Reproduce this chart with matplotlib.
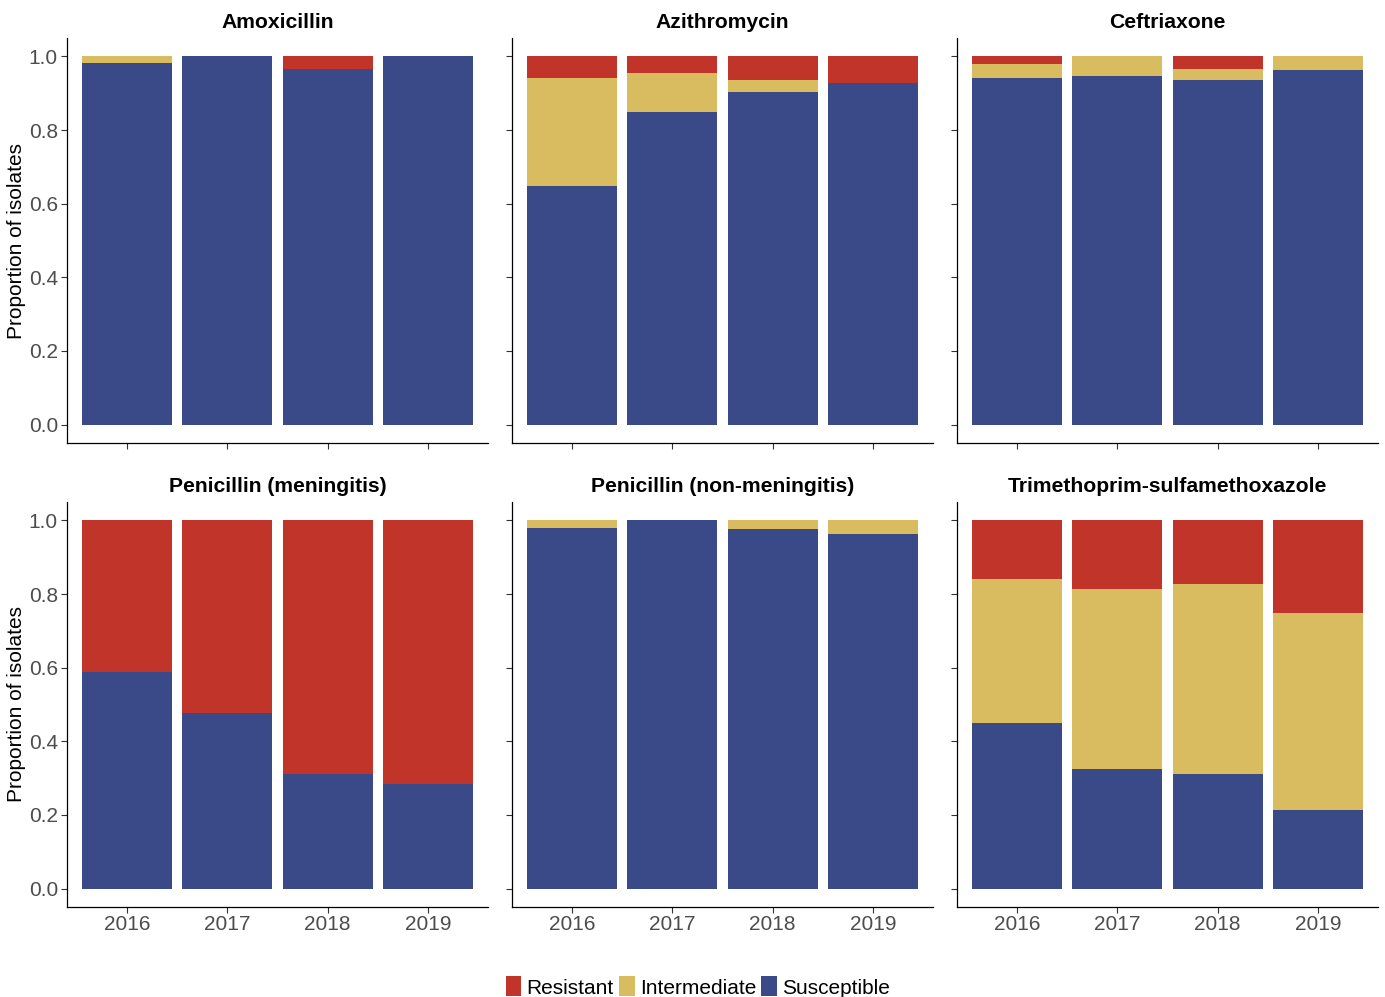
import matplotlib
matplotlib.use("Agg")
import matplotlib.pyplot as plt
from matplotlib.patches import Patch
import numpy as np

plt.rcParams['font.family'] = ['Liberation Sans', 'DejaVu Sans']

years = ["2016", "2017", "2018", "2019"]
drugs = ["Amoxicillin", "Azithromycin", "Ceftriaxone",
         "Penicillin (meningitis)", "Penicillin (non-meningitis)",
         "Trimethoprim-sulfamethoxazole"]

susceptible = {
    "Amoxicillin": [0.981, 1.0, 0.967, 1.0],
    "Azithromycin": [0.648, 0.848, 0.903, 0.928],
    "Ceftriaxone": [0.941, 0.946, 0.935, 0.964],
    "Penicillin (meningitis)": [0.588, 0.477, 0.312, 0.285],
    "Penicillin (non-meningitis)": [0.979, 1.0, 0.977, 0.963],
    "Trimethoprim-sulfamethoxazole": [0.450, 0.325, 0.312, 0.214],
}
intermediate = {
    "Amoxicillin": [0.019, 0.0, 0.0, 0.0],
    "Azithromycin": [0.293, 0.108, 0.032, 0.0],
    "Ceftriaxone": [0.039, 0.054, 0.032, 0.036],
    "Penicillin (meningitis)": [0.0, 0.0, 0.0, 0.0],
    "Penicillin (non-meningitis)": [0.021, 0.0, 0.023, 0.037],
    "Trimethoprim-sulfamethoxazole": [0.392, 0.490, 0.515, 0.535],
}
resistant = {
    "Amoxicillin": [0.0, 0.0, 0.033, 0.0],
    "Azithromycin": [0.059, 0.044, 0.065, 0.072],
    "Ceftriaxone": [0.020, 0.0, 0.033, 0.0],
    "Penicillin (meningitis)": [0.412, 0.523, 0.688, 0.715],
    "Penicillin (non-meningitis)": [0.0, 0.0, 0.0, 0.0],
    "Trimethoprim-sulfamethoxazole": [0.158, 0.185, 0.173, 0.251],
}

C_RES = "#C0342A"
C_INT = "#D9BC5F"
C_SUS = "#3A4A89"

W, H = 1385, 997
fig = plt.figure(figsize=(W / 100, H / 100), dpi=100)

lefts = [67, 512, 957]
tops = [38, 502]
aw, ah = 421, 405

x = np.arange(1, 5)
for i, drug in enumerate(drugs):
    r, c = divmod(i, 3)
    ax = fig.add_axes([lefts[c] / W, 1 - (tops[r] + ah) / H, aw / W, ah / H])
    s = np.array(susceptible[drug])
    m = np.array(intermediate[drug])
    rr = np.array(resistant[drug])
    ax.bar(x, s, width=0.9, color=C_SUS, linewidth=0)
    ax.bar(x, m, width=0.9, bottom=s, color=C_INT, linewidth=0)
    ax.bar(x, rr, width=0.9, bottom=s + m, color=C_RES, linewidth=0)
    ax.set_xlim(0.4, 4.6)
    ax.set_ylim(-0.05, 1.05)
    ax.set_xticks(x)
    ax.set_yticks([0, 0.2, 0.4, 0.6, 0.8, 1.0])
    for sp in ["top", "right"]:
        ax.spines[sp].set_visible(False)
    for sp in ["left", "bottom"]:
        ax.spines[sp].set_color("black")
        ax.spines[sp].set_linewidth(0.9)
    ax.tick_params(axis="both", colors="#333333", labelcolor="#4D4D4D",
                   labelsize=15, length=4, width=0.8)
    ax.tick_params(axis="x", pad=1.5)
    ax.tick_params(axis="y", pad=2.5)
    if r == 1:
        ax.set_xticklabels(years)
    else:
        ax.set_xticklabels([])
    if c == 0:
        ax.set_yticklabels(["0.0", "0.2", "0.4", "0.6", "0.8", "1.0"])
        ax.set_ylabel("Proportion of isolates", fontsize=15, color="black", labelpad=2)
    else:
        ax.set_yticklabels([])
    ax.set_title(drug, fontsize=15.2, fontweight="bold", pad=7)

handles = [Patch(facecolor=C_RES, label="Resistant"),
           Patch(facecolor=C_INT, label="Intermediate"),
           Patch(facecolor=C_SUS, label="Susceptible")]
fig.legend(handles=handles, loc="center", bbox_to_anchor=(698 / W, 1 - 987 / H),
           ncol=3, frameon=False, fontsize=15, handlelength=0.75, handleheight=1.1,
           handletextpad=0.25, columnspacing=0.25)

fig.savefig("out.png", dpi=100, facecolor="white")
